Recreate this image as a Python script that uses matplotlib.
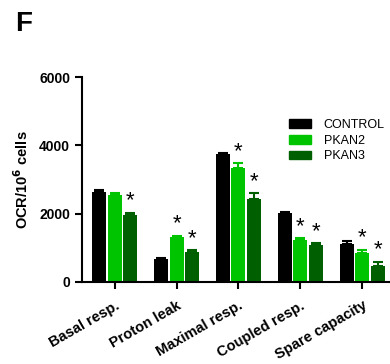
import numpy as np
import matplotlib.pyplot as plt
from matplotlib.patches import Patch

plt.rcParams['font.family'] = ['Liberation Sans', 'DejaVu Sans']

categories = ['Basal resp.', 'Proton leak', 'Maximal resp.', 'Coupled resp.', 'Spare capacity']
groups = ['CONTROL', 'PKAN2', 'PKAN3']
colors = ['#000000', '#00c400', '#005f00']

control = [2620, 670, 3740, 2020, 1100]
pkan2 = [2540, 1300, 3340, 1220, 850]
pkan3 = [1970, 870, 2440, 1080, 470]

control_err = [70, 40, 50, 40, 90]
pkan2_err = [50, 50, 130, 50, 90]
pkan3_err = [50, 50, 160, 50, 120]

# significance marks (vs control)
pkan2_sig = [False, True, True, True, True]
pkan3_sig = [True, True, True, True, True]

values = [control, pkan2, pkan3]
errors = [control_err, pkan2_err, pkan3_err]
sigs = [[False] * 5, pkan2_sig, pkan3_sig]

fig = plt.figure(figsize=(3.9, 3.64), dpi=100)
ax = fig.add_axes([0.21, 0.226, 0.79, 0.562])

x = np.arange(len(categories))
w = 0.225
for i in range(3):
    pos = x + (i - 1) * 0.25
    ax.bar(pos, values[i], width=w, color=colors[i], zorder=2)
    ax.errorbar(pos, values[i], yerr=[np.zeros(5), errors[i]], fmt='none',
                ecolor=colors[i], elinewidth=1.5, capsize=3.5, capthick=1.5, zorder=1)
    for p, v, e, s in zip(pos, values[i], errors[i], sigs[i]):
        if s:
            ax.text(p, v + e + 40, '*', ha='center', va='bottom', fontsize=16)

ax.set_xlim(-0.53, 4.45)
ax.set_ylim(0, 6000)
ax.set_yticks([0, 2000, 4000, 6000])
ax.set_xticks(x)
ax.set_xticklabels(categories, rotation=30, ha='right', rotation_mode='anchor',
                   fontsize=10.5, fontweight='bold')
for lbl in ax.get_yticklabels():
    lbl.set_fontweight('bold')
    lbl.set_fontsize(10)

ax.set_ylabel('OCR/10$^\\mathbf{6}$ cells', fontsize=10.5, fontweight='bold', labelpad=6)

ax.spines['top'].set_visible(False)
ax.spines['right'].set_visible(False)
ax.spines['left'].set_linewidth(1.5)
ax.spines['bottom'].set_linewidth(1.5)
ax.tick_params(axis='both', width=1.5, length=5, direction='out')
ax.tick_params(axis='x', pad=7)

handles = [Patch(color=c) for c in colors]
ax.legend(handles, groups, loc='upper left', bbox_to_anchor=(0.655, 0.82), frameon=False,
          fontsize=9, handlelength=1.8, handleheight=0.7, handletextpad=1.0,
          labelspacing=0.3, borderaxespad=0)

fig.text(0.04, 0.97, 'F', fontsize=20, fontweight='bold', va='top')

fig.savefig('out.png', dpi=100)
